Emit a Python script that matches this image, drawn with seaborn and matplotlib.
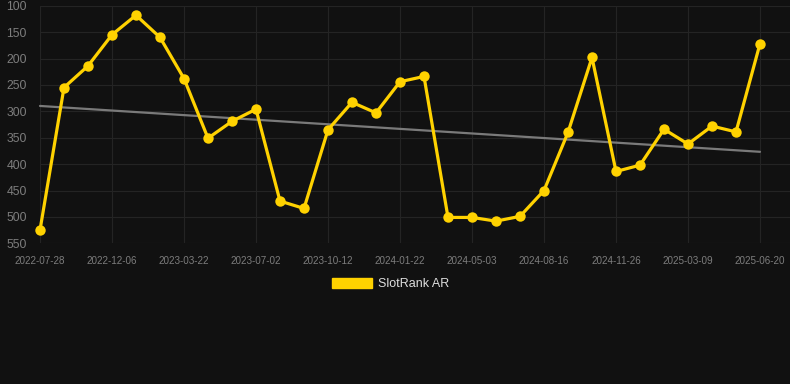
import numpy as np
import pandas as pd
import matplotlib
matplotlib.use("Agg")
import matplotlib.pyplot as plt
import seaborn as sns
from matplotlib.patches import Patch

# Dane (ranking, oś odwrócona)
rank = [525, 255, 214, 155, 118, 160, 238, 351, 319, 296,
        470, 484, 335, 283, 303, 244, 234, 501, 501, 508,
        499, 450, 340, 198, 414, 402, 334, 362, 328, 339, 172]
tick_labels = ["2022-07-28", "2022-12-06", "2023-03-22", "2023-07-02",
               "2023-10-12", "2024-01-22", "2024-05-03", "2024-08-16",
               "2024-11-26", "2025-03-09", "2025-06-20"]
y_ticks = [100, 150, 200, 250, 300, 350, 400, 450, 500, 550]

df = pd.DataFrame({"idx": np.arange(len(rank)), "rank": rank})

bg = "#111111"
grid_c = "#242424"
gold = "#FFD200"

sns.set_style("dark")
plt.rcParams['font.family'] = ['Liberation Sans', 'DejaVu Sans']

fig = plt.figure(figsize=(7.9, 3.84), dpi=100, facecolor=bg)
ax = fig.add_axes([40 / 790, (384 - 243.3) / 384, 750 / 790, 237.6 / 384])
ax.set_facecolor(bg)

# Linia trendu
sns.regplot(data=df, x="idx", y="rank", scatter=False, ci=None, ax=ax,
            line_kws={"color": "#7a7a7a", "linewidth": 1.6, "zorder": 2})

# Seria główna
sns.lineplot(data=df, x="idx", y="rank", ax=ax, color=gold, linewidth=2.3,
             marker="o", markersize=7.5, markeredgewidth=0, zorder=3)
for ln in ax.lines:
    ln.set_clip_on(False)

ax.set_xlim(0, 31.25)
ax.set_ylim(550, 100)
ax.set_yticks(y_ticks)
ax.set_xticks(np.arange(0, len(rank), 3))
ax.set_xticklabels(tick_labels)

ax.grid(True, color=grid_c, linewidth=0.8)
for s in ax.spines.values():
    s.set_visible(False)
ax.tick_params(axis="x", colors=grid_c, length=7, width=0.8, labelsize=7.1,
               labelcolor="#7d7d7d", pad=2)
ax.tick_params(axis="y", length=0, labelsize=8.8, labelcolor="#7d7d7d", pad=9.5)
ax.set_xlabel("")
ax.set_ylabel("")

fig.legend(handles=[Patch(facecolor=gold, edgecolor=gold, label="SlotRank AR")],
           loc="center", bbox_to_anchor=(391 / 790, 1 - 284 / 384),
           frameon=False, fontsize=9, labelcolor="#dddddd",
           handlelength=3.2, handleheight=0.85, handletextpad=0.5)

fig.savefig("out.png", dpi=100, facecolor=bg)
